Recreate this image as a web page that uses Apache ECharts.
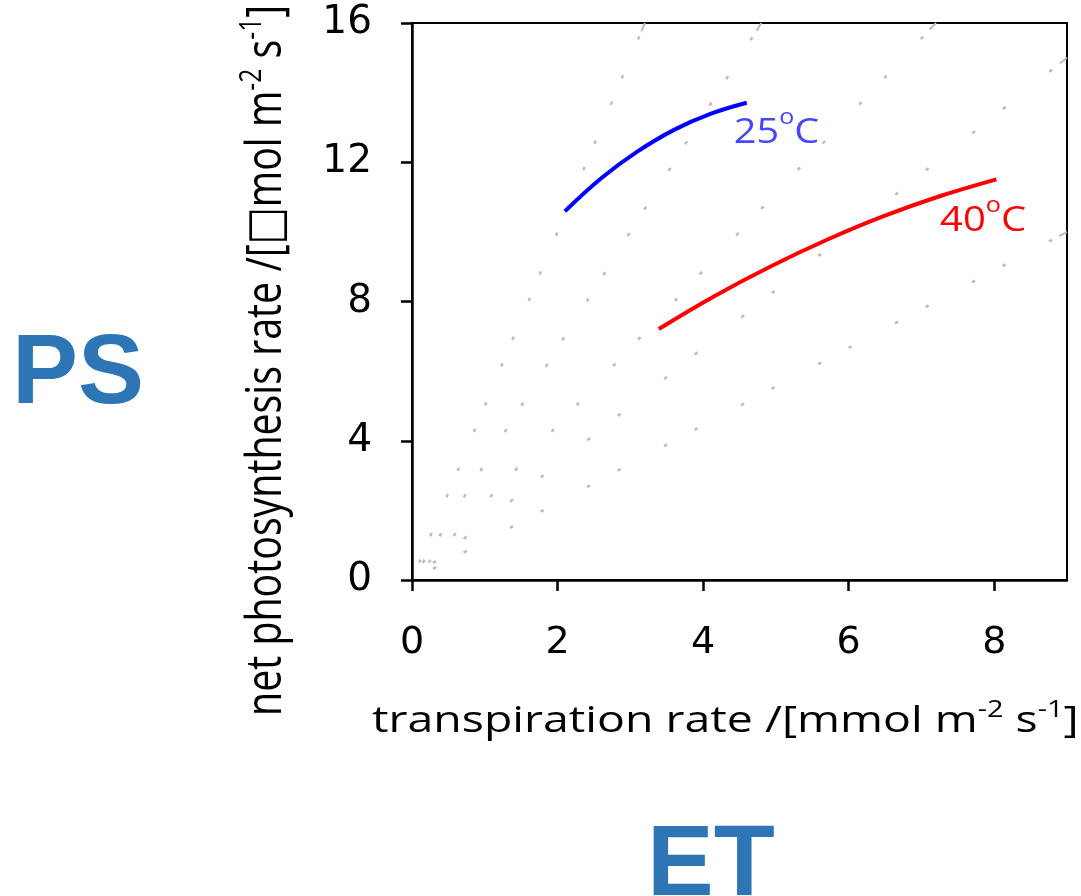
<!DOCTYPE html>
<html>
<head>
<meta charset="utf-8">
<script src="https://cdn.jsdelivr.net/npm/echarts@6/dist/echarts.min.js"></script>
<style>
html,body{margin:0;padding:0;background:#fff;}
#chart{width:1081px;height:896px;}
</style>
</head>
<body>
<div id="chart"></div>
<script>
// ---- data ----
const xTicks = [0, 2, 4, 6, 8];
const yTicks = [0, 4, 8, 12, 16];
// transpiration (x) vs net photosynthesis (y)
const curve25 = [[2.10,10.59],[2.60,11.54],[3.10,12.31],[3.60,12.93],[4.10,13.39],[4.60,13.71]];
const curve40 = [[3.39,7.21],[4.16,8.16],[4.94,9.02],[5.71,9.78],[6.48,10.45],[7.26,11.03],[8.03,11.51]];
// grey reference lines from the origin: end points where they leave the frame
const refLineEnds = [[3.2,16],[4.8,16],[7.2,16],[9,15],[9,10]];
const curveNames = ['25', '40'];

// ---- styles ----
const refDash = [
  {type:[3.5,25.2,3.5,38.7], off:52.2},
  {type:[3.5,27.7,3.5,42.4], off:56.7},
  {type:[3.5,32.9,3.5,49.9], off:65.7},
  {type:[3.5,35.6,3.5,55.9], off:71.4},
  {type:[3.5,31.1,3.5,49.1], off:63.4}
];
const GREY = '#bcbcbc';
const OPEN = '"Open Sans", "DejaVu Sans", sans-serif';

const mctx = document.createElement('canvas').getContext('2d');
function measure(size, family, weight, s) {
  mctx.font = (weight || 'normal') + ' ' + size + 'px ' + family;
  mctx.textBaseline = 'alphabetic';
  const a = mctx.measureText(s);
  mctx.textBaseline = 'middle';
  const m = mctx.measureText(s);
  return {w: a.width, mid: a.actualBoundingBoxAscent - m.actualBoundingBoxAscent,
          left: -a.actualBoundingBoxLeft, right: a.actualBoundingBoxRight};
}
// Build a line of text with superscripts as a group; local origin = baseline start.
function supGroup(parts, family, fill, opt) {
  let x = 0; const children = []; let inkL = null, inkR = 0;
  parts.forEach((p, i) => {
    const m = measure(p.size, family, opt.weight, p.t);
    if (i === 0) inkL = x + m.left;
    inkR = x + m.right;
    children.push({type: 'text', x: x, y: -m.mid - (p.rise || 0),
      style: {text: p.t, fontSize: p.size, fontFamily: family, fontWeight: opt.weight || 'normal', fill: fill, align: 'left', verticalAlign: 'middle'}});
    x += m.w;
  });
  const sx = opt.width ? opt.width / (inkR - inkL) : 1;
  const g = {type: 'group', z: 10, children: children, scaleX: sx, scaleY: opt.scaleY || 1};
  if (opt.rotate) {
    g.rotation = Math.PI / 2;
    g.x = opt.baseX;
    g.y = opt.startY + inkL * sx;
  } else {
    g.x = opt.left - inkL * sx;
    g.y = opt.baseY;
  }
  return g;
}

const chart = echarts.init(document.getElementById('chart'));

const refSeries = refLineEnds.map((e, i) => ({
  type: 'line', data: [[0, 0], e], symbol: 'none', silent: true, z: 1,
  lineStyle: {color: GREY, width: 2.5, type: refDash[i].type, dashOffset: refDash[i].off, cap: 'butt'}
}));

const xTitle = supGroup([
  {t: 'transpiration rate /[mmol m', size: 37},
  {t: '-2', size: 23, rise: 15},
  {t: ' s', size: 37},
  {t: '-1', size: 23, rise: 15},
  {t: ']', size: 37}
], OPEN, '#000', {left: 372, baseY: 732, width: 704});

const yTitle = supGroup([
  {t: 'net photosynthesis rate /[\u25A1mol m', size: 40},
  {t: '-2', size: 25, rise: 16},
  {t: ' s', size: 40},
  {t: '-1', size: 25, rise: 16},
  {t: ']', size: 40}
], OPEN, '#000', {rotate: true, baseX: 281, startY: 713, width: 705, scaleY: 1.23});

const lab25 = supGroup([
  {t: curveNames[0], size: 35}, {t: 'o', size: 22, rise: 19}, {t: 'C', size: 35}
], OPEN, '#4646ff', {left: 735, baseY: 143, width: 83});
const lab40 = supGroup([
  {t: curveNames[1], size: 35}, {t: 'o', size: 22, rise: 19}, {t: 'C', size: 35}
], OPEN, '#ff0000', {left: 940, baseY: 231, width: 85});

const BIG = '"Liberation Sans", Arial, sans-serif';
const ps = supGroup([{t: 'PS', size: 99}], BIG, '#2e75b6', {left: 18, baseY: 403, weight: 'bold'});
const et = supGroup([{t: 'ET', size: 100}], BIG, '#2e75b6', {left: 653, baseY: 895, weight: 'bold'});

const option = {
  animation: false,
  backgroundColor: '#fff',
  grid: {left: 412, right: 14, top: 23, bottom: 316, show: true, borderColor: '#000', borderWidth: 2, backgroundColor: 'transparent'},
  xAxis: {
    type: 'value', min: 0, max: 9,
    splitLine: {show: false},
    axisLine: {onZero: false, lineStyle: {color: '#000', width: 2.5}},
    axisTick: {length: 11, lineStyle: {color: '#000', width: 2.5}, customValues: xTicks},
    axisLabel: {customValues: xTicks, fontFamily: '"DejaVu Sans", sans-serif', fontSize: 38, color: '#000', margin: 44}
  },
  yAxis: {
    type: 'value', min: 0, max: 16, interval: 4,
    splitLine: {show: false},
    axisLine: {onZero: false, lineStyle: {color: '#000', width: 2.5}},
    axisTick: {length: 11, lineStyle: {color: '#000', width: 2.5}, customValues: yTicks},
    axisLabel: {customValues: yTicks, fontFamily: '"DejaVu Sans", sans-serif', fontSize: 39, color: '#000', margin: 40}
  },
  series: refSeries.concat([
    {type: 'line', data: curve25, symbol: 'none', smooth: 0.4, z: 3, lineStyle: {color: '#0000ff', width: 4}},
    {type: 'line', data: curve40, symbol: 'none', smooth: 0.4, z: 3, lineStyle: {color: '#ff0000', width: 4}}
  ]),
  graphic: [xTitle, yTitle, lab25, lab40, ps, et]
};

chart.setOption(option);

// final longer dash where each grey line meets the frame
const TAIL = 9;
const tails = refLineEnds.map((e) => {
  const p0 = chart.convertToPixel({gridIndex: 0}, [0, 0]);
  const p1 = chart.convertToPixel({gridIndex: 0}, e);
  const L = Math.hypot(p1[0] - p0[0], p1[1] - p0[1]);
  return {type: 'line', data: [[0, 0], e], symbol: 'none', silent: true, z: 1,
    lineStyle: {color: GREY, width: 2, type: [TAIL, L], dashOffset: -(L - TAIL), cap: 'butt'}};
});
chart.setOption({series: option.series.concat(tails)});
</script>
</body>
</html>
